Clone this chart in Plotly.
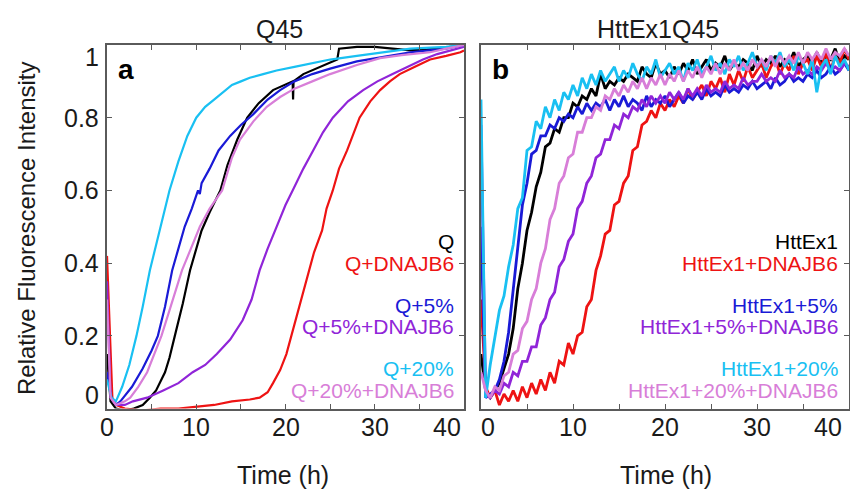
import plotly.graph_objects as go

# ---------------- Panel a : Q45 (smooth kinetics) ----------------
a_q_t = [0, 0.4, 1, 2, 3, 4, 4.8, 5.5, 6.5, 7, 7.6, 8.5, 9.3, 10, 10.6, 11.5, 12.7, 13.5, 14.6, 15.7,
         17, 18.6, 20, 20.8, 20.85, 20.9, 22, 23, 24, 25, 25.8, 26, 28, 30, 32, 34, 37, 40]
a_q_v = [0.15, 0.02, 0.0, -0.005, 0.0, 0.01, 0.03, 0.05, 0.1, 0.14, 0.2, 0.29, 0.38, 0.44, 0.49, 0.54,
         0.6, 0.67, 0.74, 0.8, 0.84, 0.876, 0.89, 0.9, 0.85, 0.9, 0.92, 0.93, 0.94, 0.95, 0.96, 0.99,
         0.995, 0.995, 0.99, 0.985, 0.99, 1.0]

a_qd_t = [0, 0.3, 0.6, 1, 2, 4, 6, 8, 10, 12, 14, 16, 17.1, 18, 18.6, 19.4, 20.1, 21, 22.2, 23.2, 24.1,
          24.6, 25.3, 26, 26.9, 28.3, 29.5, 30.6, 31.7, 32.8, 34.5, 36.2, 38, 39.6, 40]
a_qd_v = [0.42, 0.2, 0.03, 0.01, 0.0, -0.005, 0.0, 0.0, 0.005, 0.01, 0.02, 0.025, 0.03, 0.045, 0.07,
          0.106, 0.15, 0.23, 0.34, 0.43, 0.49, 0.55, 0.6, 0.66, 0.71, 0.8, 0.845, 0.876, 0.9, 0.92,
          0.94, 0.96, 0.97, 0.98, 0.985]

a_q5_t = [0, 0.5, 1, 1.5, 2.8, 4, 5, 5.7, 6.5, 7.3, 8, 8.7, 9.5, 10.2, 10.4, 10.6, 11.5, 12.5, 13.8,
          15, 16.4, 18, 19.4, 21, 23, 25, 28, 30.6, 34, 38, 40]
a_q5_v = [0.1, 0.03, 0.01, 0.02, 0.06, 0.11, 0.16, 0.2, 0.28, 0.38, 0.44, 0.5, 0.55, 0.6, 0.59, 0.62,
          0.66, 0.71, 0.75, 0.78, 0.81, 0.85, 0.876, 0.9, 0.92, 0.935, 0.955, 0.965, 0.98, 0.99, 1.0]

a_q5d_t = [0, 0.4, 1, 2, 2.9, 4.5, 6.3, 8, 9.6, 11, 12.3, 13.8, 15.2, 16.2, 17.1, 18, 19, 20, 20.8,
           22, 23.1, 24.2, 25.3, 27, 28.7, 30.3, 32, 33.7, 35.4, 37, 38.8, 40]
a_q5d_v = [0.35, 0.03, 0.01, 0.01, 0.02, 0.03, 0.05, 0.07, 0.1, 0.12, 0.15, 0.19, 0.243, 0.3, 0.38,
           0.44, 0.5, 0.56, 0.6, 0.66, 0.71, 0.76, 0.8, 0.845, 0.876, 0.9, 0.92, 0.94, 0.96, 0.975,
           0.986, 0.995]

a_q20_t = [0, 0.5, 1, 1.7, 2.5, 3.3, 4, 4.8, 5.5, 6, 7, 8, 9, 10, 11, 12, 13, 14, 15, 16, 17.5, 19,
           21, 23, 25, 28, 31, 34, 38, 40]
a_q20_v = [0.08, 0.03, 0.02, 0.06, 0.12, 0.2, 0.28, 0.38, 0.45, 0.5, 0.6, 0.68, 0.75, 0.8, 0.83, 0.85,
           0.87, 0.89, 0.9, 0.91, 0.92, 0.93, 0.94, 0.95, 0.96, 0.97, 0.98, 0.99, 0.995, 1.0]

a_q20d_t = [0, 0.4, 1, 2, 2.6, 3.5, 4.5, 5.3, 6.1, 7, 7.8, 8.4, 9.4, 10.4, 11.5, 12.9, 14, 14.9, 16.4,
            17.9, 19.4, 21, 23, 25, 28, 30.6, 33, 36.2, 38, 40]
a_q20d_v = [0.3, 0.03, 0.01, 0.02, 0.03, 0.06, 0.1, 0.15, 0.2, 0.27, 0.33, 0.38, 0.44, 0.5, 0.55, 0.6,
            0.69, 0.74, 0.79, 0.83, 0.857, 0.88, 0.9, 0.92, 0.945, 0.964, 0.972, 0.98, 0.99, 1.0]

# ---------------- Panel b : HttEx1Q45 (noisy kinetics) ----------------
b_t = [0, 0.5, 1, 1.5, 2, 2.5, 3, 3.5, 4, 4.5, 5, 5.5, 6, 6.5, 7, 7.5, 8, 8.5, 9, 9.5,
       10, 10.5, 11, 11.5, 12, 12.5, 13, 13.5, 14, 14.5, 15, 15.5, 16, 16.5, 17, 17.5, 18, 18.5, 19, 19.5,
       20, 20.5, 21, 21.5, 22, 22.5, 23, 23.5, 24, 24.5, 25, 25.5, 26, 26.5, 27, 27.5, 28, 28.5, 29, 29.5,
       30, 30.5, 31, 31.5, 32, 32.5, 33, 33.5, 34, 34.5, 35, 35.5, 36, 36.5, 37, 37.5, 38, 38.5, 39, 39.5, 40]

b_h = [0.15, 0.05, 0.03, 0.05, 0.07, 0.11, 0.15, 0.22, 0.33, 0.40, 0.49, 0.54, 0.61, 0.65, 0.72, 0.73,
       0.77, 0.76, 0.80, 0.80, 0.84, 0.83, 0.86, 0.85, 0.88, 0.86, 0.92, 0.88, 0.90, 0.89, 0.91, 0.90,
       0.92, 0.91, 0.90, 0.94, 0.92, 0.91, 0.95, 0.92, 0.93, 0.91, 0.94, 0.92, 0.95, 0.93, 0.96, 0.92,
       0.94, 0.96, 0.93, 0.95, 0.94, 0.97, 0.93, 0.95, 0.94, 0.96, 0.95, 0.93, 0.97, 0.94, 0.96, 0.95,
       0.97, 0.94, 0.96, 0.95, 0.98, 0.94, 0.96, 0.97, 0.95, 0.98, 0.95, 0.97, 0.96, 0.99, 0.95, 0.97, 0.96]

b_hd = [0.30, 0.06, 0.03, 0.05, 0.01, 0.04, 0.02, 0.05, 0.02, 0.06, 0.03, 0.07, 0.04, 0.08, 0.05, 0.10,
        0.07, 0.13, 0.12, 0.18, 0.15, 0.20, 0.21, 0.28, 0.30, 0.38, 0.42, 0.48, 0.49, 0.56, 0.57, 0.62,
        0.64, 0.71, 0.72, 0.78, 0.79, 0.82, 0.80, 0.84, 0.82, 0.85, 0.83, 0.86, 0.84, 0.88, 0.85, 0.87,
        0.89, 0.86, 0.90, 0.88, 0.91, 0.87, 0.92, 0.89, 0.93, 0.90, 0.94, 0.91, 0.93, 0.95, 0.91, 0.94,
        0.96, 0.92, 0.95, 0.93, 0.97, 0.92, 0.95, 0.96, 0.93, 0.97, 0.94, 0.98, 0.93, 0.97, 0.95, 0.99, 0.96]

b_h5 = [0.50, 0.03, 0.04, 0.05, 0.08, 0.13, 0.21, 0.33, 0.45, 0.56, 0.62, 0.70, 0.71, 0.75, 0.75, 0.78,
        0.77, 0.80, 0.79, 0.81, 0.80, 0.83, 0.81, 0.84, 0.82, 0.84, 0.83, 0.85, 0.82, 0.85, 0.83, 0.86,
        0.83, 0.85, 0.84, 0.82, 0.86, 0.83, 0.85, 0.84, 0.86, 0.83, 0.85, 0.87, 0.84, 0.86, 0.85, 0.87,
        0.85, 0.88, 0.86, 0.87, 0.86, 0.89, 0.87, 0.88, 0.87, 0.89, 0.88, 0.90, 0.88, 0.89, 0.90, 0.88,
        0.91, 0.89, 0.90, 0.92, 0.90, 0.91, 0.90, 0.92, 0.91, 0.93, 0.91, 0.92, 0.94, 0.92, 0.93, 0.95, 0.93]

b_h5d = [0.78, 0.04, 0.03, 0.05, 0.04, 0.07, 0.06, 0.10, 0.09, 0.13, 0.13, 0.17, 0.17, 0.23, 0.25, 0.30,
         0.32, 0.39, 0.41, 0.46, 0.48, 0.55, 0.57, 0.62, 0.64, 0.69, 0.70, 0.74, 0.74, 0.78, 0.77, 0.81,
         0.80, 0.83, 0.82, 0.85, 0.83, 0.86, 0.84, 0.86, 0.84, 0.87, 0.85, 0.87, 0.85, 0.88, 0.86, 0.88,
         0.86, 0.89, 0.87, 0.88, 0.87, 0.90, 0.88, 0.89, 0.88, 0.91, 0.89, 0.90, 0.90, 0.92, 0.90, 0.91,
         0.90, 0.93, 0.91, 0.92, 0.91, 0.94, 0.92, 0.93, 0.92, 0.94, 0.93, 0.95, 0.93, 0.94, 0.93, 0.95, 0.94]

b_h20 = [0.85, 0.03, 0.12, 0.20, 0.27, 0.31, 0.39, 0.45, 0.55, 0.58, 0.71, 0.72, 0.79, 0.77, 0.83, 0.80,
         0.85, 0.82, 0.87, 0.85, 0.89, 0.86, 0.91, 0.88, 0.92, 0.89, 0.93, 0.90, 0.92, 0.94, 0.90, 0.93,
         0.91, 0.95, 0.92, 0.90, 0.94, 0.92, 0.96, 0.91, 0.93, 0.95, 0.92, 0.94, 0.90, 0.95, 0.93, 0.96,
         0.92, 0.94, 0.97, 0.93, 0.95, 0.92, 0.96, 0.94, 0.97, 0.93, 0.95, 0.98, 0.94, 0.96, 0.93, 0.97,
         0.95, 0.98, 0.94, 0.96, 0.93, 0.97, 0.95, 0.92, 0.96, 0.87, 0.94, 0.96, 0.92, 0.97, 0.94, 0.96, 0.93]

b_h20d = [0.10, 0.05, 0.03, 0.06, 0.05, 0.09, 0.10, 0.15, 0.16, 0.22, 0.24, 0.30, 0.33, 0.40, 0.44, 0.52,
          0.55, 0.62, 0.64, 0.69, 0.70, 0.76, 0.76, 0.80, 0.80, 0.83, 0.82, 0.86, 0.85, 0.88, 0.86, 0.89,
          0.87, 0.90, 0.88, 0.91, 0.88, 0.91, 0.89, 0.92, 0.89, 0.92, 0.90, 0.93, 0.90, 0.93, 0.91, 0.94,
          0.91, 0.94, 0.92, 0.95, 0.92, 0.95, 0.93, 0.96, 0.93, 0.95, 0.93, 0.96, 0.94, 0.96, 0.94, 0.97,
          0.94, 0.97, 0.95, 0.97, 0.95, 0.98, 0.95, 0.98, 0.96, 0.98, 0.96, 0.99, 0.96, 0.98, 0.97, 0.99, 0.97]

# ---------------- labels / styles ----------------
titles = ["Q45", "HttEx1Q45"]
panel_tags = ["a", "b"]
a_names = ["Q", "Q+DNAJB6", "Q+5%", "Q+5%+DNAJB6", "Q+20%", "Q+20%+DNAJB6"]
b_names = ["HttEx1", "HttEx1+DNAJB6", "HttEx1+5%", "HttEx1+5%+DNAJB6", "HttEx1+20%", "HttEx1+20%+DNAJB6"]
colors = ["#000000", "#ee1313", "#1a1ad6", "#9025d8", "#19c0f2", "#d87ed8"]
x_ticks = [0, 5, 10, 15, 20, 25, 30, 35, 40]
x_label_vals = [0, 10, 20, 30, 40]
x_label_text = ["0", "10", "20", "30", "40"]
y_ticks = [0, 0.2, 0.4, 0.6, 0.8, 1]
y_label_text = ["0", "0.2", "0.4", "0.6", "0.8", "1"]

FONT = "Liberation Sans, Arial, sans-serif"
TXT = "#1a1a1a"

a_series = [(a_q_t, a_q_v), (a_qd_t, a_qd_v), (a_q5_t, a_q5_v),
            (a_q5d_t, a_q5d_v), (a_q20_t, a_q20_v), (a_q20d_t, a_q20d_v)]
b_series = [b_h, b_hd, b_h5, b_h5d, b_h20, b_h20d]

fig = go.Figure()
for (t, v), name, c in zip(a_series, a_names, colors):
    fig.add_trace(go.Scatter(x=t, y=v, mode="lines", name=name,
                             line=dict(color=c, width=2.2), xaxis="x", yaxis="y"))
for v, name, c in zip(b_series, b_names, colors):
    fig.add_trace(go.Scatter(x=b_t, y=v, mode="lines", name=name,
                             line=dict(color=c, width=2.8), xaxis="x2", yaxis="y2"))

W, H = 850, 490
ax_common = dict(showline=True, linecolor="#5a5a5a", linewidth=1.5, mirror="ticks",
                 ticks="inside", ticklen=5, tickwidth=1.3, tickcolor="#5a5a5a",
                 showgrid=False, zeroline=False, showticklabels=False, automargin=False)

yd = [1 - 408.6 / H, 1 - 45 / H]
fig.update_layout(
    width=W, height=H, showlegend=False,
    paper_bgcolor="white", plot_bgcolor="white",
    margin=dict(l=0, r=0, t=0, b=0, pad=0, autoexpand=False),
    xaxis=dict(domain=[107 / W, 464 / W], range=[0, 40], tickvals=x_ticks, anchor="y", **ax_common),
    yaxis=dict(domain=yd, range=[0, 1], tickvals=y_ticks, anchor="x", **ax_common),
    xaxis2=dict(domain=[481 / W, 849 / W], range=[0, 40], tickvals=x_ticks, anchor="y2", **ax_common),
    yaxis2=dict(domain=yd, range=[0, 1], tickvals=y_ticks, anchor="x2", **ax_common),
)

ann = []
# x tick labels (end labels nudged inward as in the original figure)
x_shift_a = {0: 0, 40: -17}
x_shift_b = {0: 7, 40: -21}
for xref, shifts in [("x", x_shift_a), ("x2", x_shift_b)]:
    for val, txt in zip(x_label_vals, x_label_text):
        ann.append(dict(text=txt, x=val, xref=xref, y=1 - 427 / H, yref="paper",
                        xshift=shifts.get(val, 0), showarrow=False,
                        xanchor="center", yanchor="middle",
                        font=dict(family=FONT, size=25, color=TXT)))
# y tick labels (panel a only)
y_shift = {0: 14, 1: -12}
for val, txt in zip(y_ticks, y_label_text):
    ann.append(dict(text=txt, x=101 / W, xref="paper", y=val, yref="y", xanchor="right",
                    yanchor="middle", yshift=y_shift.get(val, 0), showarrow=False,
                    font=dict(family=FONT, size=25, color=TXT)))
# panel titles
for txt, xc in zip(titles, [279, 658]):
    ann.append(dict(text=txt, x=xc / W, y=1 - 28.5 / H, xref="paper", yref="paper",
                    xanchor="center", yanchor="middle", showarrow=False,
                    font=dict(family=FONT, size=25, color=TXT)))
# panel tags
for txt, xc in zip(panel_tags, [126, 500]):
    ann.append(dict(text="<b>" + txt + "</b>", x=xc / W, y=1 - 70 / H, xref="paper", yref="paper",
                    xanchor="center", yanchor="middle", showarrow=False,
                    font=dict(family=FONT, size=28, color="#000000")))
# axis titles
for xc in [283, 666]:
    ann.append(dict(text="Time (h)", x=xc / W, y=1 - 475 / H, xref="paper", yref="paper",
                    xanchor="center", yanchor="middle", showarrow=False,
                    font=dict(family=FONT, size=25, color=TXT)))
ann.append(dict(text="Relative Fluorescence Intensity", x=26 / W, y=1 - 228 / H, xref="paper",
                yref="paper", xanchor="center", yanchor="middle", showarrow=False, textangle=-90,
                font=dict(family=FONT, size=24, color=TXT)))
# in-plot legends
rows_y = [241, 263, 305, 326, 368, 390]
for names, xr in [(a_names, 456), (b_names, 840)]:
    for name, c, ry in zip(names, colors, rows_y):
        ann.append(dict(text=name, x=xr / W, y=1 - ry / H, xref="paper", yref="paper",
                        xanchor="right", yanchor="middle", showarrow=False,
                        font=dict(family=FONT, size=21, color=c)))
fig.update_layout(annotations=ann)

fig.write_html("out.html", config={"displayModeBar": False},
               post_script="document.body.style.margin='0px';")
